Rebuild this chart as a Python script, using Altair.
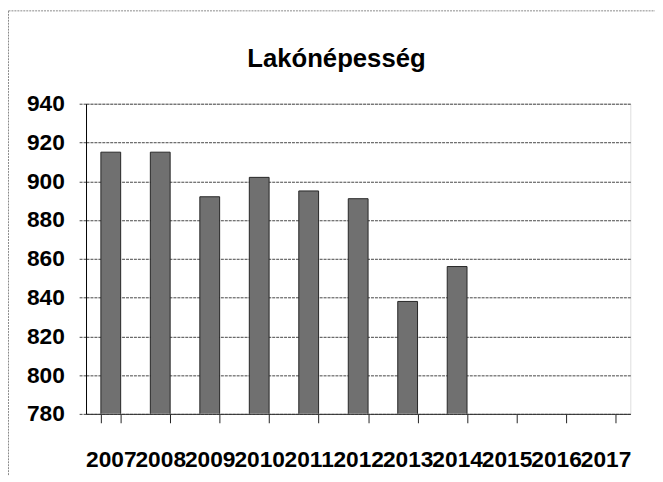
import altair as alt
import pandas as pd

# ---- data ----
years = ["2007", "2008", "2009", "2010", "2011", "2012", "2013", "2014", "2015", "2016", "2017"]
values = [915, 915, 892, 902, 895, 891, 838, 856]
y_ticks = [780, 800, 820, 840, 860, 880, 900, 920, 940]
title_text = "Lakónépesség"

df = pd.DataFrame({"year": years[:len(values)], "value": values})
frame_df = pd.DataFrame({"k": [0]})

font = "Liberation Sans"

bars = alt.Chart(df).mark_bar(color="#707070", stroke="#262626", strokeWidth=1, clip=True).encode(
    x=alt.X(
        "year:N",
        scale=alt.Scale(domain=years, paddingInner=0.6, paddingOuter=0.3),
        axis=alt.Axis(
            title=None, labelAngle=0, tickBand="extent", ticks=True, tickSize=9,
            tickColor="#222222", domainColor="#333333", labelFont=font, labelFontSize=23,
            labelFontWeight="bold", labelColor="black", labelPadding=26, grid=False,
            labelOverlap=False,
        ),
    ),
    y=alt.Y(
        "value:Q",
        scale=alt.Scale(domain=[780, 940], nice=False, zero=False),
        axis=alt.Axis(
            values=y_ticks, title=None, grid=True, gridColor="#444444", gridDash=[3, 1],
            tickSize=7, tickColor="#444444", tickDash=[3, 1], domainColor="black",
            labelFont=font, labelFontSize=23, labelFontWeight="bold", labelColor="black",
            labelPadding=15,
        ),
    ),
)

border_left = alt.Chart(frame_df).mark_rule(color="#888888", strokeDash=[2, 1], strokeWidth=1).encode(
    x=alt.value(-78.5), y=alt.value(-94), y2=alt.value(380)
)
border_top = alt.Chart(frame_df).mark_rule(color="#888888", strokeDash=[2, 1], strokeWidth=1).encode(
    x=alt.value(-78.5), x2=alt.value(580), y=alt.value(-94)
)

chart = alt.layer(bars, border_left, border_top).properties(
    width=551,
    height=314,
    title=alt.Title(
        title_text, font=font, fontSize=26, fontWeight="bold", color="black",
        anchor="middle", frame="group", baseline="alphabetic", offset=-83, dx=-22,
    ),
    autosize=alt.AutoSizeParams(type="none"),
    padding={"left": 79, "top": 94, "right": 25, "bottom": 60},
).configure_view(stroke=None).configure(background="white")

chart.save("out.html", embed_options={"renderer": "svg", "actions": False})
